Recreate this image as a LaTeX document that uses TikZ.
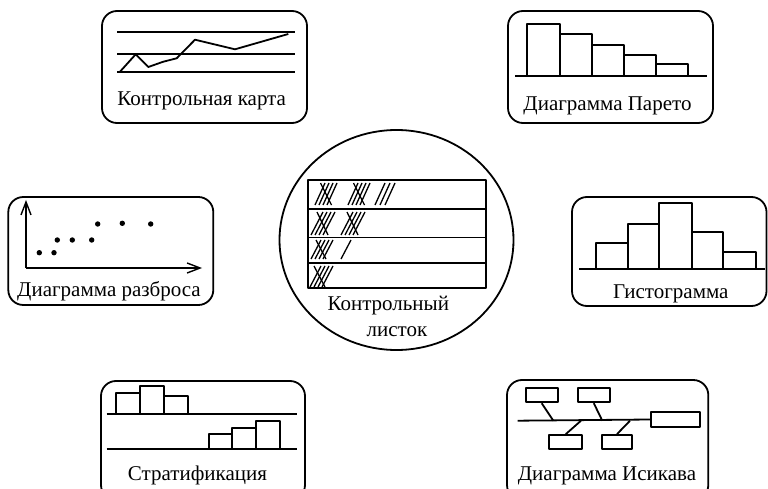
\documentclass[tikz,border=0pt]{standalone}
\usepackage{fontspec}
\setmainfont{Liberation Serif}
\usetikzlibrary{arrows.meta}
\begin{document}
\begin{tikzpicture}[x=1pt,y=-1pt, line width=1.8pt, line join=round,
  panel/.style={draw, rounded corners=15pt, line width=1.8pt},
  lbl/.style={anchor=base, font=\fontsize{21}{24}\selectfont, inner sep=0pt},
  tl/.style={line width=1.3pt},
  fbox/.style={draw, line width=1.8pt, minimum height=14pt, inner sep=0pt},
  axis/.style={-{Straight Barb[length=13pt,width=10pt,line width=1.4pt]}, line width=1.8pt}]
\useasboundingbox (0,0) rectangle (768,489);
\begin{scope}
\clip (0,0) rectangle (768,489);

% ---------- Control chart
\draw[panel] (102,11) rectangle (307,123);
\draw (117,32) -- (295,32);
\draw (117,54) -- (295,54);
\draw (117,72) -- (295,72);
\draw (120,71.7) -- (135.7,54.3) -- (148.3,67) -- (163.3,61.7) -- (176.7,58.3)
      -- (195,39.7) -- (235,49.3) -- (288.3,34);
\node[lbl] (cc) at (201.7,106) {Контрольная карта};

% ---------- Pareto
\draw[panel] (508,11) rectangle (713,123);
\draw (527.3,75.7) rectangle (560,24);
\draw (560,75.7) rectangle (592.3,34.3);
\draw (592.3,75.7) rectangle (624,45);
\draw (624,75.7) rectangle (656,55);
\draw (656,75.7) rectangle (688.3,64);
\draw (515,75.7) -- (707,75.7);
\node[lbl] (pa) at (607.5,110.5) {Диаграмма Парето};

% ---------- Scatter
\draw[panel] (8.3,197) rectangle (213.3,305);
\draw[axis] (26,268) -- (26,200);
\draw[axis] (26,268) -- (202,268);
\foreach \p in {(39.3,252.7),(54,252.7),(57.3,240),(72.3,240),(91.7,240),(97.7,224),(122.3,223.3),(150.7,224)}
  \fill \p circle (2.7pt);
\node[lbl] (sc) at (109,296) {Диаграмма разброса};

% ---------- Histogram
\draw[panel] (572,197) rectangle (766.5,306);
\draw (595.7,269) rectangle (627.7,243.3);
\draw (627.7,269) rectangle (659.3,224);
\draw (659.3,269) rectangle (691.7,203.3);
\draw (691.7,269) rectangle (723.3,231.7);
\draw (723.3,269) rectangle (756,251.7);
\draw (579.3,269) -- (765,269);
\node[lbl] (hi) at (670.8,298) {Гистограмма};

% ---------- Check sheet (centre)
\draw (396.5,240) ellipse [x radius=117, y radius=110];
\draw (308,180) rectangle (485.7,288.3);
\draw (308,209.3) -- (485.7,209.3);
\draw (308,237.5) -- (485.7,237.5);
\draw (308,263) -- (485.7,263);
% row 1
\foreach \x in {315,319,323,327,348,352,356,360,375,380,385}
  \draw[tl] (\x,205) -- (\x+10,183);
\draw[tl] (320.5,183) -- (331.5,205);
\draw[tl] (353.5,183) -- (364.5,205);
% row 2
\foreach \x in {311,315,319,323,341,345,349,353}
  \draw[tl] (\x,235) -- (\x+12,212);
\draw[tl] (317,212) -- (328,235);
\draw[tl] (347,212) -- (358,235);
% row 3
\foreach \x in {311,315,319,323,341}
  \draw[tl] (\x,259) -- (\x+10,240);
\draw[tl] (316,240) -- (326,259);
% row 4
\foreach \x in {310,314,318,322}
  \draw[tl] (\x,287) -- (\x+11,266);
\draw[tl] (314,266) -- (325,287);
\node[lbl] (ks1) at (388.3,310) {Контрольный};
\node[lbl] (ks2) at (397,336.7) {листок};

% ---------- Stratification
\draw[panel] (101,381) rectangle (305,500);
\draw (115.7,414) rectangle (140,392.7);
\draw (140,414) rectangle (164.3,386);
\draw (164.3,414) rectangle (188.3,395.7);
\draw (209,449.3) rectangle (231.7,434.3);
\draw (231.7,449.3) rectangle (256,427.7);
\draw (256,449.3) rectangle (280,420.7);
\draw (106.7,414) -- (296.7,414);
\draw (106.7,449.3) -- (296.7,449.3);
\node[lbl] (st) at (197.5,480) {Стратификация};

% ---------- Ishikawa
\draw[panel] (507,380) rectangle (708.3,500);
\node[fbox, minimum width=32pt] (b1) at (541.7,395.3) {};
\node[fbox, minimum width=32.3pt] (b2) at (593.8,395.3) {};
\node[fbox, minimum width=33pt] (b3) at (565.8,442) {};
\node[fbox, minimum width=30.6pt] (b4) at (617,442) {};
\node[fbox, minimum width=49pt, minimum height=15.6pt] (hd) at (675.5,419.5) {};
\coordinate (sp0) at (517.7,420.7);
\coordinate (j1) at (553.3,420.7);
\coordinate (j2) at (602.3,420.7);
\coordinate (j3) at (581,420.7);
\coordinate (j4) at (630,420.7);
\draw (sp0) -- (hd.west);
\draw (b1.south) -- (j1);
\draw (b2.south) -- (j2);
\draw (b3.north) -- (j3);
\draw (b4.north) -- (j4);
\node[lbl] (is) at (607,480) {Диаграмма Исикава};
\end{scope}
\end{tikzpicture}
\end{document}
